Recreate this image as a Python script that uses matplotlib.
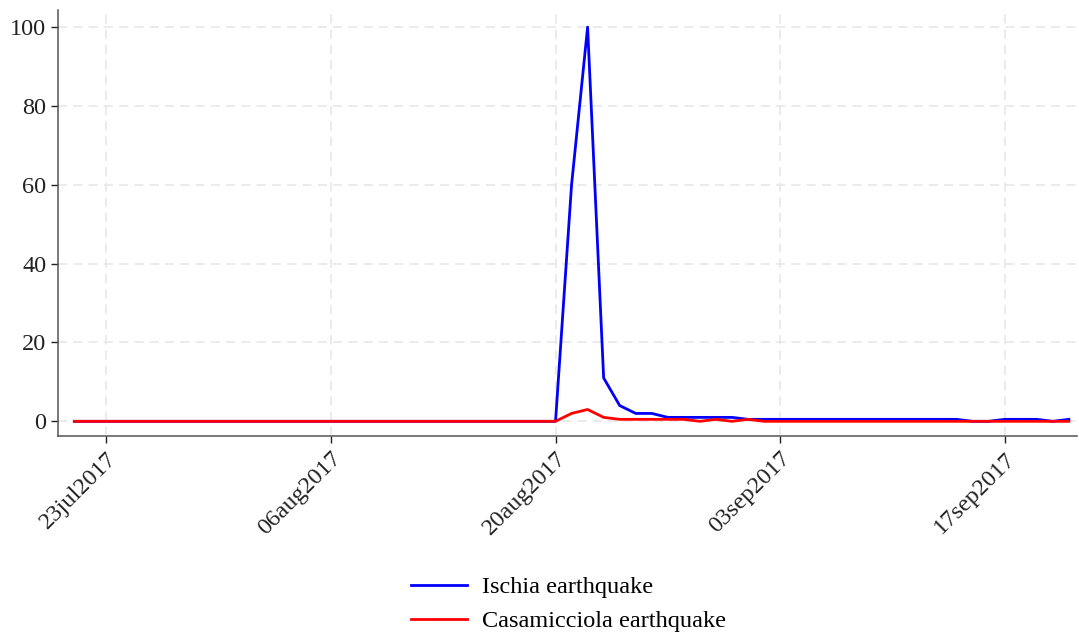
import numpy as np
import pandas as pd
import matplotlib
matplotlib.use("Agg")
import matplotlib.pyplot as plt
import matplotlib.dates as mdates

# daily series, 21 Jul 2017 - 21 Sep 2017
dates = pd.date_range("2017-07-21", "2017-09-21", freq="D")

ischia = ([0] * 31 +                      # 21 jul - 20 aug
          [60, 100, 11, 4, 2, 2, 1, 1, 1, 1, 1] +   # 21 aug - 31 aug
          [0.5] * 14 +                    # 01 sep - 14 sep
          [0, 0, 0.5, 0.5, 0.5, 0, 0.5])  # 15 sep - 21 sep

casamicciola = ([0] * 31 +
                [2, 3, 1, 0.5, 0.5, 0.5, 0.5, 0.5, 0, 0.5, 0] +
                [0.5] + [0] * 13 +
                [0, 0, 0, 0, 0, 0, 0])

tick_dates = pd.to_datetime(["2017-07-23", "2017-08-06", "2017-08-20",
                             "2017-09-03", "2017-09-17"])
tick_labels = ["23jul2017", "06aug2017", "20aug2017", "03sep2017", "17sep2017"]
y_ticks = [0, 20, 40, 60, 80, 100]

plt.rcParams['font.family'] = ['Liberation Serif', 'DejaVu Serif']

fig = plt.figure(figsize=(10.79, 6.36), dpi=100)
ax = fig.add_axes([0.054, 0.314, 0.944, 0.67])

ax.plot(dates, ischia, color='#0000ff', lw=2.0, label='Ischia earthquake')
ax.plot(dates, casamicciola, color='#ff0000', lw=2.0, label='Casamicciola earthquake')

ax.set_xlim(pd.Timestamp("2017-07-20"), pd.Timestamp("2017-09-21 12:00"))
ax.set_ylim(-3.8, 104.3)

ax.set_xticks(tick_dates)
ax.set_xticklabels(tick_labels, rotation=45, ha='right', rotation_mode='anchor')
ax.set_yticks(y_ticks)
ax.tick_params(labelsize=17.5, colors='#222222', length=5, width=1)

ax.grid(True, linestyle=(0, (6, 4)), color='#e6e6e6', lw=1.1)
ax.set_axisbelow(True)
for s in ['top', 'right']:
    ax.spines[s].set_visible(False)
for s in ['left', 'bottom']:
    ax.spines[s].set_color('#555555')
    ax.spines[s].set_linewidth(1.1)

fig.legend(loc='center', bbox_to_anchor=(0.527, 0.05), frameon=False,
           fontsize=17.5, handlelength=2.3, labelspacing=0.5, handletextpad=0.65)

fig.savefig("out.png", dpi=100)
